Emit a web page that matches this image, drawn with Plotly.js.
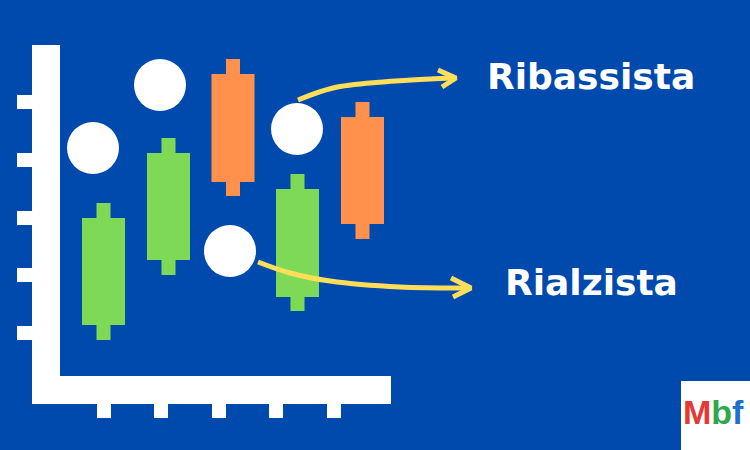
<!DOCTYPE html>
<html>
<head>
<meta charset="utf-8">
<script src="https://cdn.plot.ly/plotly-3.0.1.min.js"></script>
<style>html,body{margin:0;padding:0;background:#004AAD;}#chart{width:750px;height:450px;}</style>
</head>
<body>
<div id="chart"></div>
<script>
// Candles
const candleX     = [103.5, 168.5, 233, 297.5, 362.5];
const candleOpen  = [125, 190, 376, 153, 333];
const candleClose = [232, 297, 268, 261, 226];
const candleHigh  = [247, 312, 391, 276, 348];
const candleLow   = [110, 175, 254, 139, 211];

// White dots
const dotX = [93, 160, 230, 297];
const dotY = [302, 365, 199, 321];

// Arrows
const upArrowX = [298, 333, 383, 430, 453];
const upArrowY = [350, 362, 368, 371, 372];
const upHeadX  = [438, 456, 442];
const upHeadY  = [380, 372, 363];
const downArrowX = [258, 290, 330, 400, 468];
const downArrowY = [188, 177, 169, 163, 162];
const downHeadX  = [451, 471, 453];
const downHeadY  = [172, 162, 153];

// Decorative axis ticks
const yTickVals = [348, 290, 232, 175, 117];
const xTickVals = [104, 161, 219, 276, 334];

// Labels
const labelTop = "Ribassista";
const labelBottom = "Rialzista";
const logoText = '<span style="color:#E53935">M</span><span style="color:#2EA84A">b</span><span style="color:#1E6FD0">f</span>';

const GREEN = "#7ED957", ORANGE = "#FF914D", YELLOW = "#FFDE59", BG = "#004AAD";

const isUp = candleX.map((_, i) => candleClose[i] > candleOpen[i]);
const colors = isUp.map(u => u ? GREEN : ORANGE);

const traces = [
  { type: "bar", x: candleX, base: candleLow, y: candleHigh.map((h, i) => h - candleLow[i]),
    width: 14, marker: { color: colors, line: { width: 0 } }, hoverinfo: "skip" },
  { type: "bar", x: candleX, base: candleX.map((_, i) => Math.min(candleOpen[i], candleClose[i])),
    y: candleX.map((_, i) => Math.abs(candleClose[i] - candleOpen[i])),
    width: 43, marker: { color: colors, line: { width: 0 } }, hoverinfo: "skip" },
  { type: "scatter", mode: "markers", x: dotX, y: dotY,
    marker: { size: 52, color: "#FFFFFF", line: { width: 0 } }, hoverinfo: "skip" },
  { type: "scatter", mode: "lines", x: upArrowX, y: upArrowY,
    line: { color: YELLOW, width: 5, shape: "spline" }, hoverinfo: "skip" },
  { type: "scatter", mode: "lines", x: upHeadX, y: upHeadY,
    line: { color: YELLOW, width: 5 }, hoverinfo: "skip" },
  { type: "scatter", mode: "lines", x: downArrowX, y: downArrowY,
    line: { color: YELLOW, width: 5, shape: "spline" }, hoverinfo: "skip" },
  { type: "scatter", mode: "lines", x: downHeadX, y: downHeadY,
    line: { color: YELLOW, width: 5 }, hoverinfo: "skip" }
];

const shapes = [
  { type: "rect", xref: "x", yref: "y", x0: 32, x1: 60, y0: 46, y1: 405, fillcolor: "#FFFFFF", line: { width: 0 }, layer: "below" },
  { type: "rect", xref: "x", yref: "y", x0: 32, x1: 391, y0: 46, y1: 74, fillcolor: "#FFFFFF", line: { width: 0 }, layer: "below" }
];
yTickVals.forEach(v => shapes.push({ type: "rect", xref: "x", yref: "y", x0: 17, x1: 33, y0: v - 7, y1: v + 7,
  fillcolor: "#FFFFFF", line: { width: 0 }, layer: "below" }));
xTickVals.forEach(v => shapes.push({ type: "rect", xref: "x", yref: "y", x0: v - 7, x1: v + 7, y0: 32, y1: 47,
  fillcolor: "#FFFFFF", line: { width: 0 }, layer: "below" }));
// logo box
shapes.push({ type: "rect", xref: "x", yref: "y", x0: 681, x1: 751, y0: -1, y1: 69, fillcolor: "#FFFFFF", line: { width: 0 }, layer: "above" });

const annotations = [
  { x: 485, y: 374, xref: "x", yref: "y", xanchor: "left", yanchor: "middle", showarrow: false, text: labelTop,
    font: { family: "DejaVu Sans", size: 36, weight: "bold", color: "#FFFFFF" } },
  { x: 503, y: 168, xref: "x", yref: "y", xanchor: "left", yanchor: "middle", showarrow: false, text: labelBottom,
    font: { family: "DejaVu Sans", size: 36, weight: "bold", color: "#FFFFFF" } },
  { x: 713, y: 38, xref: "x", yref: "y", xanchor: "center", yanchor: "middle", showarrow: false, text: logoText,
    font: { family: "Liberation Sans, Arial, sans-serif", size: 34, weight: "bold", color: "#E53935" } }
];

const layout = {
  width: 750, height: 450,
  margin: { l: 0, r: 0, t: 0, b: 0, pad: 0 },
  paper_bgcolor: BG, plot_bgcolor: BG,
  showlegend: false, barmode: "overlay",
  xaxis: { range: [0, 750], visible: false, fixedrange: true },
  yaxis: { range: [0, 450], visible: false, fixedrange: true },
  shapes: shapes, annotations: annotations
};

Plotly.newPlot("chart", traces, layout, { displayModeBar: false, staticPlot: true });
</script>
</body>
</html>
